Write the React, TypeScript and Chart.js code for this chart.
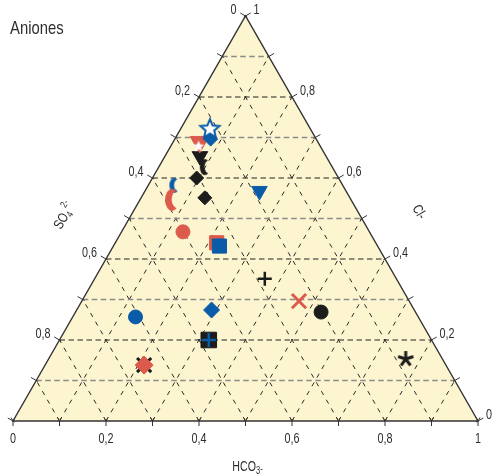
import React, { useEffect, useRef } from "react";
import { Chart, registerables } from "chart.js";

Chart.register(...registerables);

// ---- data (ternary fractions: Cl-, HCO3-; SO4 2- = 1 - Cl - HCO3) ----
const sampleIds = [
  "M01", "M02", "M03", "M04", "M05", "M06", "M07", "M08", "M09", "M10", "M11", "M12",
  "M13", "M14", "M15", "M16", "M17", "M18", "M19", "M20", "M21", "M22", "M23", "M24",
];
const clValues = [
  0.440, 0.432, 0.654, 0.627, 0.689, 0.680, 0.696, 0.723, 0.600, 0.551, 0.568, 0.582,
  0.546, 0.467, 0.351, 0.296, 0.269, 0.153, 0.257, 0.274, 0.200, 0.200, 0.138, 0.138,
];
const hco3Values = [
  0.218, 0.228, 0.075, 0.099, 0.057, 0.059, 0.077, 0.062, 0.095, 0.137, 0.246, 0.056,
  0.069, 0.132, 0.366, 0.467, 0.528, 0.768, 0.135, 0.290, 0.321, 0.321, 0.213, 0.213,
];
const gridSteps = [0.1, 0.2, 0.3, 0.4, 0.5, 0.6, 0.7, 0.8, 0.9];
const tickSteps = [0, 0.1, 0.2, 0.3, 0.4, 0.5, 0.6, 0.7, 0.8, 0.9, 1];
const labelSteps = [0, 0.2, 0.4, 0.6, 0.8, 1];
const tickLabels = ["0", "0,2", "0,4", "0,6", "0,8", "1"];
const titleText = "Aniones";

const BLUE = "#0b5ca8";
const RED = "#dc5a4b";
const BLACK = "#1c1c1c";
const FONT = '"Liberation Sans", Arial, sans-serif';
const TXT = "#2e2e2e";

function starCanvas(R: number, fill: string, stroke: string, lw: number) {
  const pad = lw + 2;
  const size = Math.ceil(2 * (R + pad));
  const c = document.createElement("canvas");
  c.width = size;
  c.height = size;
  const g = c.getContext("2d")!;
  g.translate(size / 2, size / 2 + 1);
  g.beginPath();
  for (let i = 0; i < 10; i++) {
    const r = i % 2 === 0 ? R : R * 0.45;
    const a = -Math.PI / 2 + (i * Math.PI) / 5;
    g.lineTo(r * Math.cos(a), r * Math.sin(a));
  }
  g.closePath();
  g.fillStyle = fill;
  g.fill();
  if (lw > 0) {
    g.lineWidth = lw;
    g.strokeStyle = stroke;
    g.stroke();
  }
  return c;
}

function asteriskCanvas(R: number, color: string, lw: number) {
  const size = Math.ceil(2 * R + 4);
  const c = document.createElement("canvas");
  c.width = size;
  c.height = size;
  const g = c.getContext("2d")!;
  g.translate(size / 2, size / 2);
  g.strokeStyle = color;
  g.lineWidth = lw;
  g.beginPath();
  for (let i = 0; i < 5; i++) {
    const a = -Math.PI / 2 + (i * 2 * Math.PI) / 5;
    g.moveTo(0, 0);
    g.lineTo(R * Math.cos(a), R * Math.sin(a));
  }
  g.stroke();
  return c;
}

function crescentCanvas(w: number, h: number, color: string) {
  const c = document.createElement("canvas");
  c.width = Math.ceil(w + 2);
  c.height = Math.ceil(h + 2);
  const g = c.getContext("2d")!;
  const cx = c.width / 2;
  const cy = c.height / 2;
  g.fillStyle = color;
  g.beginPath();
  g.ellipse(cx, cy, w / 2, h / 2, 0, 0, Math.PI * 2);
  g.fill();
  g.globalCompositeOperation = "destination-out";
  g.beginPath();
  g.ellipse(cx + w * 0.42, cy - h * 0.02, w * 0.45, h * 0.4, 0, 0, Math.PI * 2);
  g.fill();
  return c;
}

type Mk = { style: any; r: number; color: string; fill?: string; bw: number; rot?: number };

function buildMarkers(): Mk[] {
  return [
    { style: "rect", r: 10, color: RED, bw: 1 },
    { style: "rect", r: 10, color: BLUE, bw: 1 },
    { style: "triangle", r: 9, color: BLACK, bw: 1, rot: 180 },
    { style: crescentCanvas(10, 16, BLACK), r: 6, color: BLACK, bw: 0 },
    { style: "triangle", r: 11, color: RED, bw: 1, rot: 180 },
    { style: starCanvas(5.5, "#ffffff", "#ffffff", 0.5), r: 6, color: "#fff", bw: 0 },
    { style: "rectRot", r: 7, color: BLUE, bw: 1 },
    { style: starCanvas(10, "#ffffff", BLUE, 2), r: 6, color: BLUE, bw: 0 },
    { style: "rectRot", r: 7, color: BLACK, bw: 1 },
    { style: "rectRot", r: 7, color: BLACK, bw: 1 },
    { style: "triangle", r: 9, color: BLUE, bw: 1, rot: 180 },
    { style: crescentCanvas(10, 15, BLUE), r: 6, color: BLUE, bw: 0 },
    { style: crescentCanvas(14, 22, RED), r: 6, color: RED, bw: 0 },
    { style: "circle", r: 7, color: RED, bw: 1 },
    { style: "cross", r: 7, color: BLACK, bw: 2.5, fill: "rgba(0,0,0,0)" },
    { style: "crossRot", r: 10, color: RED, bw: 3, fill: "rgba(0,0,0,0)" },
    { style: "circle", r: 7, color: BLACK, bw: 1 },
    { style: asteriskCanvas(8, BLACK, 3), r: 6, color: BLACK, bw: 0 },
    { style: "circle", r: 7, color: BLUE, bw: 1 },
    { style: "rectRot", r: 8, color: BLUE, bw: 1 },
    { style: "rect", r: 11, color: BLACK, bw: 1 },
    { style: "cross", r: 7, color: BLUE, bw: 2.5, fill: "rgba(0,0,0,0)" },
    { style: "crossRot", r: 10, color: BLACK, bw: 3, fill: "rgba(0,0,0,0)" },
    { style: "rectRot", r: 9, color: RED, bw: 1 },
  ];
}

function narrowText(ctx: any, s: string, x: number, y: number, px: number, align: string, sx: number) {
  ctx.save();
  ctx.font = `${px}px ${FONT}`;
  const w = ctx.measureText(s).width * sx;
  const x0 = align === "center" ? x - w / 2 : align === "right" ? x - w : x;
  ctx.translate(x0, y);
  ctx.scale(sx, 1);
  ctx.textAlign = "left";
  ctx.fillText(s, 0, 0);
  ctx.restore();
  return w;
}

const ternaryPlugin = {
  id: "ternaryFrame",
  beforeDatasetsDraw(chart: any) {
    const { ctx } = chart;
    const xs = chart.scales.x;
    const ys = chart.scales.y;
    const P = (a: number, b: number): [number, number] => [xs.getPixelForValue(a), ys.getPixelForValue(b)];
    const A = P(0, 0);
    const B = P(1, 0);
    const C = P(0.5, 1);
    ctx.save();
    ctx.beginPath();
    ctx.moveTo(A[0], A[1]);
    ctx.lineTo(B[0], B[1]);
    ctx.lineTo(C[0], C[1]);
    ctx.closePath();
    ctx.fillStyle = "#fdf5cf";
    ctx.fill();
    // diagonal grid
    ctx.lineWidth = 1;
    ctx.strokeStyle = "#2a2a2a";
    ctx.setLineDash([4.5, 5.5]);
    for (const c of gridSteps) {
      const s = P(c, 0);
      const e1 = P((1 + c) / 2, 1 - c);
      const e2 = P(c / 2, c);
      ctx.beginPath();
      ctx.moveTo(s[0], s[1]);
      ctx.lineTo(e1[0], e1[1]);
      ctx.moveTo(s[0], s[1]);
      ctx.lineTo(e2[0], e2[1]);
      ctx.stroke();
    }
    // horizontal grid
    ctx.setLineDash([5.5, 3.5]);
    gridSteps.forEach((h, i) => {
      const l = P(h / 2, h);
      const r = P(1 - h / 2, h);
      ctx.strokeStyle = i % 2 === 0 ? "#8a8a8a" : "#222222";
      ctx.lineWidth = i % 2 === 0 ? 1.3 : 1;
      ctx.beginPath();
      ctx.moveTo(l[0], l[1]);
      ctx.lineTo(r[0], r[1]);
      ctx.stroke();
    });
    ctx.setLineDash([]);
    // edges
    ctx.strokeStyle = "#333333";
    ctx.lineWidth = 1.4;
    ctx.beginPath();
    ctx.moveTo(A[0], A[1]);
    ctx.lineTo(B[0], B[1]);
    ctx.lineTo(C[0], C[1]);
    ctx.closePath();
    ctx.stroke();
    // ticks
    ctx.lineWidth = 1;
    const cs = Math.cos(Math.PI / 6);
    const sn = Math.sin(Math.PI / 6);
    for (const t of tickSteps) {
      const b = P(t, 0);
      ctx.beginPath();
      ctx.moveTo(b[0], b[1]);
      ctx.lineTo(b[0], b[1] + 5);
      ctx.moveTo(b[0], b[1]);
      ctx.lineTo(b[0] + 4 * sn, b[1] - 4 * cs);
      ctx.moveTo(b[0], b[1]);
      ctx.lineTo(b[0] - 4 * sn, b[1] - 4 * cs);
      const l = P(t / 2, t);
      ctx.moveTo(l[0] + 2 * cs, l[1] + 2 * sn);
      ctx.lineTo(l[0] - 6 * cs, l[1] - 6 * sn);
      const r = P(1 - t / 2, t);
      ctx.moveTo(r[0] - 2 * cs, r[1] + 2 * sn);
      ctx.lineTo(r[0] + 6 * cs, r[1] - 6 * sn);
      ctx.stroke();
    }
    // tick labels
    ctx.fillStyle = TXT;
    ctx.textBaseline = "middle";
    const LS = 15;
    const SX = 0.72;
    labelSteps.forEach((v, i) => {
      const b = P(v, 0);
      narrowText(ctx, tickLabels[i], b[0], b[1] + 18, LS, "center", SX);
      const r = P(1 - v / 2, v);
      narrowText(ctx, tickLabels[i], r[0] + 8, r[1] - 6, LS, "left", SX);
      if (v > 0) {
        const l = P(v / 2, v);
        narrowText(ctx, tickLabels[labelSteps.length - 1 - i], l[0] - 9, l[1] - 6, LS, "right", SX);
      }
    });
    // axis titles
    ctx.textBaseline = "alphabetic";
    {
      ctx.save();
      ctx.font = `14px ${FONT}`;
      const w1 = ctx.measureText("HCO").width * 0.76;
      ctx.font = `10px ${FONT}`;
      const w2 = ctx.measureText("3").width * 0.76;
      const w3 = ctx.measureText("-").width * 0.76;
      const total = w1 + w2 + w3;
      const hx = (A[0] + B[0]) / 2 - total / 2 + 2;
      const hy = A[1] + 50;
      narrowText(ctx, "HCO", hx, hy, 14, "left", 0.76);
      narrowText(ctx, "3", hx + w1, hy + 3, 10, "left", 0.76);
      narrowText(ctx, "-", hx + w1 + w2, hy + 1, 10, "left", 0.76);
      ctx.restore();
    }
    // SO4 2-
    ctx.save();
    ctx.translate(61, 230);
    ctx.rotate(-Math.PI / 3);
    const s1 = narrowText(ctx, "SO", 0, 0, 14, "left", 0.78);
    const s2 = narrowText(ctx, "4", s1, 3, 10, "left", 0.78);
    narrowText(ctx, "2-", s1 + s2 + 1, -7, 10, "left", 0.78);
    ctx.restore();
    // Cl-
    ctx.save();
    ctx.translate(412, 208);
    ctx.rotate(Math.PI / 3);
    narrowText(ctx, "Cl-", 0, 0, 14, "left", 0.78);
    ctx.restore();
    // title
    ctx.fillStyle = TXT;
    narrowText(ctx, titleText, 10, 34, 19, "left", 0.78);
    ctx.restore();
  },
};

export default function App() {
  const ref = useRef<HTMLCanvasElement | null>(null);
  useEffect(() => {
    document.body.style.margin = "0";
    const markers = buildMarkers();
    const ordered = sampleIds.map((id, i) => {
      const m = markers[i];
      const cl = clValues[i];
      const hco3 = hco3Values[i];
      return {
        label: id,
        data: [{ x: hco3 + cl / 2, y: cl }],
        pointStyle: m.style,
        pointRadius: m.r,
        pointRotation: m.rot || 0,
        pointBackgroundColor: m.fill || m.color,
        pointBorderColor: m.color,
        pointBorderWidth: m.bw,
        showLine: false,
      };
    });
    // first dataset is drawn on top in Chart.js, so reverse (list is bottom -> top)
    const datasets = ordered.slice().reverse();
    const chart = new Chart(ref.current!, {
      type: "scatter",
      data: { datasets },
      options: {
        animation: false,
        responsive: false,
        maintainAspectRatio: false,
        layout: { padding: { left: 10, right: 14, top: 16, bottom: 54 } },
        scales: {
          x: { type: "linear", min: 0, max: 1, display: false },
          y: { type: "linear", min: 0, max: 1, display: false },
        },
        plugins: { legend: { display: false }, tooltip: { enabled: false }, title: { display: false } },
        elements: { point: { hoverRadius: 0 } },
      },
      plugins: [ternaryPlugin],
    } as any);
    return () => chart.destroy();
  }, []);
  return (
    <div style={{ width: 492, height: 475 }}>
      <canvas ref={ref} width={492} height={475} style={{ width: 492, height: 475, display: "block" }} />
    </div>
  );
}
